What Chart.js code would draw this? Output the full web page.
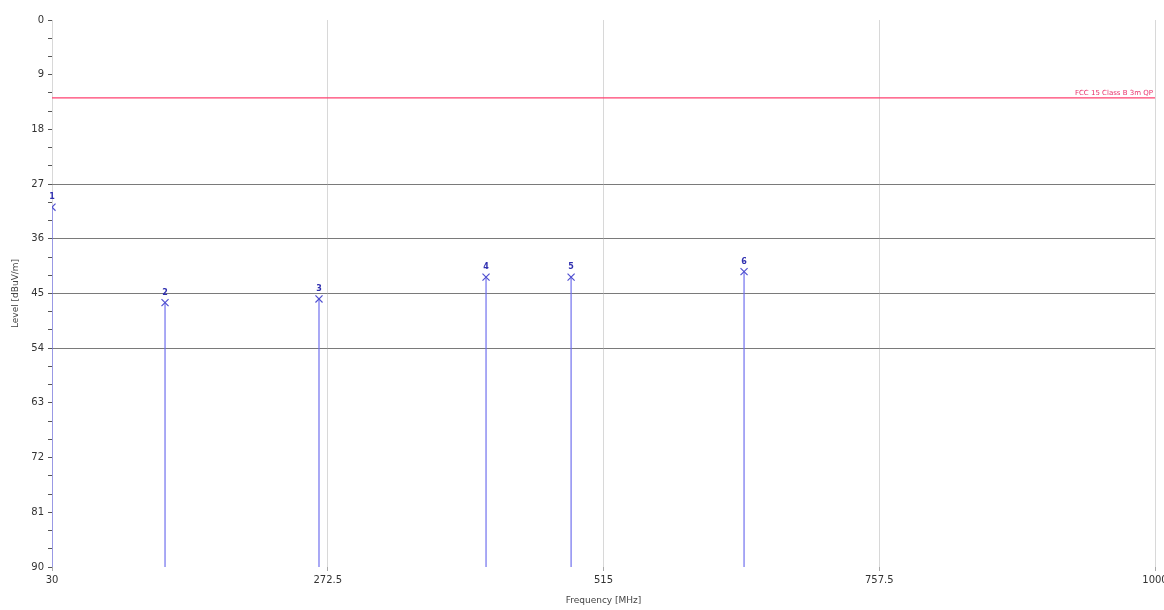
<!DOCTYPE html>
<html><head><meta charset="utf-8">
<script src="https://cdn.jsdelivr.net/npm/chart.js@4/dist/chart.umd.min.js"></script>
<style>html,body{margin:0;padding:0;background:#fff}canvas{display:block}</style>
</head><body>
<canvas id="c" width="1164" height="610"></canvas>
<script>
const markerIds = ['1','2','3','4','5','6'];
const freqs = [30, 129.4, 264.8, 411.7, 486.5, 638.6];
const levels = [30.8, 46.5, 45.9, 42.3, 42.3, 41.4];
const limitFreqs = [30, 1000];
const limitLevels = [12.8, 12.8];
const limitLabel = 'FCC 15 Class B 3m QP';
const xTicks = [30, 272.5, 515, 757.5, 1000];
const xTickLabels = ['30', '272.5', '515', '757.5', '1000'];
const yTicks = [0, 9, 18, 27, 36, 45, 54, 63, 72, 81, 90];
const majorGridLevels = [27, 36, 45, 54];
const baseLevel = 90;

const stemDatasets = freqs.map((f, i) => ({
  type: 'line',
  data: [{x: f, y: baseLevel}, {x: f, y: levels[i]}],
  borderColor: '#7070ee', borderWidth: 1.2, pointRadius: 0, order: 3
}));

const labelPlugin = {
  id: 'labels',
  afterDatasetsDraw(chart) {
    const ctx = chart.ctx, xs = chart.scales.x, ys = chart.scales.y;
    ctx.save();
    ctx.fillStyle = '#3030b0';
    ctx.font = 'bold 8px "DejaVu Sans"';
    ctx.textAlign = 'center'; ctx.textBaseline = 'bottom';
    freqs.forEach((f, i) => {
      ctx.fillText(markerIds[i], xs.getPixelForValue(f), ys.getPixelForValue(levels[i]) - 6);
    });
    ctx.fillStyle = '#e8306a';
    ctx.font = '7px "DejaVu Sans"';
    ctx.textAlign = 'right'; ctx.textBaseline = 'bottom';
    ctx.fillText(limitLabel, chart.chartArea.right - 2, ys.getPixelForValue(limitLevels[1]) - 1);
    ctx.restore();
  }
};

new Chart(document.getElementById('c'), {
  type: 'scatter',
  data: {
    datasets: [
      {
        type: 'line',
        data: limitFreqs.map((f, i) => ({x: f, y: limitLevels[i]})),
        borderColor: '#ff4070', borderWidth: 1.2, pointRadius: 0, order: 1
      },
      ...stemDatasets,
      {
        type: 'scatter',
        data: freqs.map((f, i) => ({x: f, y: levels[i]})),
        pointStyle: 'crossRot', pointRadius: 5, borderColor: '#5050d0',
        borderWidth: 1.2, backgroundColor: '#5050d0', order: 0
      }
    ]
  },
  options: {
    responsive: false, animation: false,
    layout: {padding: {top: 20, right: 9, left: 0, bottom: 0}},
    plugins: {legend: {display: false}, tooltip: {enabled: false}},
    scales: {
      x: {
        type: 'linear', min: 30, max: 1000,
        afterBuildTicks: s => { s.ticks = xTicks.map(v => ({value: v})); },
        afterFit: s => { s.height = 43; s.paddingRight = 0; s.paddingLeft = 0; },
        ticks: {
          color: '#333', font: {size: 10, family: '"DejaVu Sans"'}, maxRotation: 0,
          callback: (v, i) => xTickLabels[i]
        },
        grid: {color: '#d8d8d8', tickLength: 4, tickColor: '#aaa'},
        border: {display: false},
        title: {display: true, text: 'Frequency [MHz]', color: '#444',
          font: {size: 9, family: '"DejaVu Sans"'}, padding: {top: 0}}
      },
      y: {
        type: 'linear', reverse: true, min: 0, max: 90,
        afterBuildTicks: s => {
          const t = [];
          for (let v = 0; v <= 90; v += 3) t.push({value: v});
          s.ticks = t;
        },
        afterFit: s => { s.width = 52; s.paddingTop = 0; s.paddingBottom = 0; },
        ticks: {
          color: '#333', font: {size: 10, family: '"DejaVu Sans"'}, padding: 4,
          callback: v => yTicks.includes(v) ? String(v) : ''
        },
        grid: {
          color: c => majorGridLevels.includes(c.tick && c.tick.value) ? '#7a7a7a' : 'rgba(0,0,0,0)',
          tickColor: '#555', tickLength: 4, lineWidth: 1
        },
        border: {display: false},
        title: {display: true, text: 'Level [dBuV/m]', color: '#444',
          font: {size: 9, family: '"DejaVu Sans"'}, padding: {top: 10, bottom: 2}}
      }
    }
  },
  plugins: [labelPlugin]
});
</script>
</body></html>
